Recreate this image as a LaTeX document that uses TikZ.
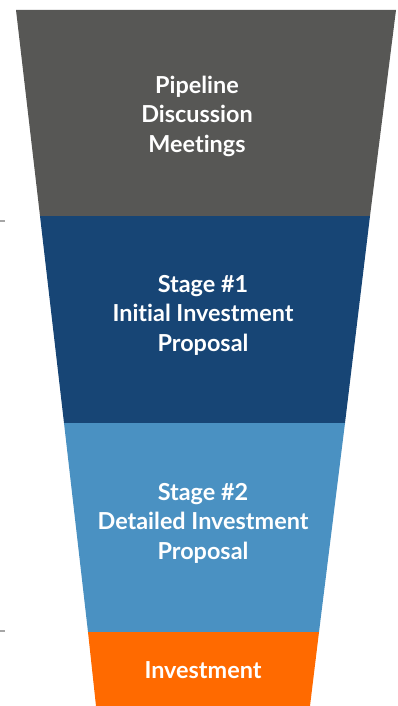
\documentclass[tikz,border=0pt]{standalone}
\usepackage{fontspec}
\setsansfont{Lato}[Ligatures=NoCommon]
\usetikzlibrary{positioning}

\definecolor{pipegray}{HTML}{575755}
\definecolor{stageonecol}{HTML}{174575}
\definecolor{stagetwocol}{HTML}{4A91C2}
\definecolor{investcol}{HTML}{FF6A00}

\begin{document}
\begin{tikzpicture}[x=1pt,y=-1pt]
\tikzstyle{band}=[draw=none]
\tikzstyle{label}=[text=white,align=center,font=\sffamily\bfseries\fontsize{23.4}{29.5}\selectfont]
\tikzstyle{tick}=[draw=gray!70,line width=1.2pt]
\useasboundingbox (0,0) rectangle (398,706);
% funnel bands, top to bottom
\fill[band,pipegray] (16,10) -- (396,10) -- (370,216) -- (40,216) -- cycle;
\fill[band,stageonecol] (40,216) -- (370,216) -- (345,423) -- (64,423) -- cycle;
\fill[band,stagetwocol] (64,423) -- (345,423) -- (319,632) -- (88,632) -- cycle;
\fill[band,investcol] (88,632) -- (319,632) -- (310,706) -- (96,706) -- cycle;
% side ticks
\draw[tick] (0,221) -- (5,221);
\draw[tick] (0,631) -- (5,631);
% stage texts
\node[label] (pipeline) at (197,116) {Pipeline\\Discussion\\Meetings};
\node[label] (stage1) at (203,315) {Stage \#1\\Initial Investment\\Proposal};
\node[label] (stage2) at (203,523) {Stage \#2\\Detailed Investment\\Proposal};
\node[label] (invest) at (203,670) {Investment};
\end{tikzpicture}
\end{document}
